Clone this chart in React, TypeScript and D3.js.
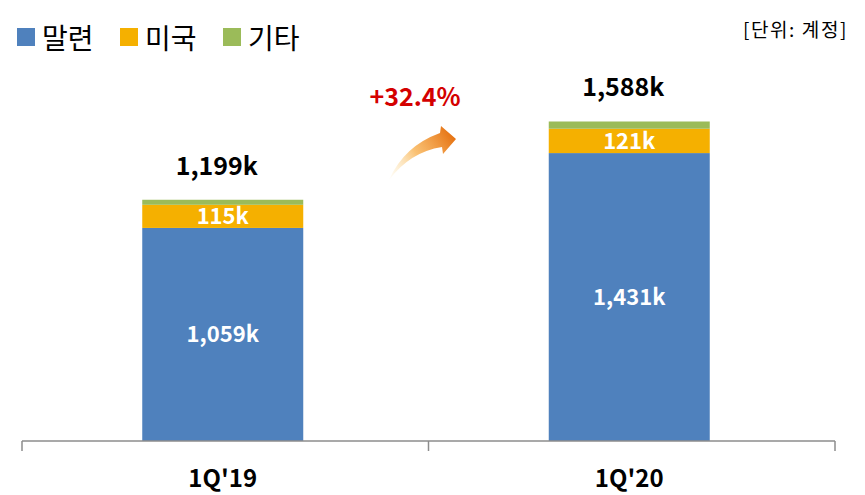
import React from 'react';
import * as d3 from 'd3';

const quarters = ["1Q'19", "1Q'20"];
const seriesNames = ['말련', '미국', '기타'];
const malaysia = [1059, 1431];
const usa = [115, 121];
const others = [25, 36];
const totals = ['1,199k', '1,588k'];
const growthLabel = '+32.4%';
const unitLabel = '[단위: 계정]';

const colors = ['#4F81BD', '#F5B000', '#9BBB59'];
const kr = '"Noto Sans CJK KR", "Malgun Gothic", sans-serif';

const W = 865;
const H = 495;

const fmt = (v: number) => d3.format(',')(v) + 'k';

const App: React.FC = () => {
  const x = d3.scaleBand<string>().domain(quarters).range([22, 835]);
  const barW = 161;
  const y = d3.scaleLinear().domain([0, 2000]).range([441, 38.6]);
  // bars sit a touch left of the band centre in the original
  const cx = (i: number) => (x(quarters[i]) as number) + x.bandwidth() / 2 - 2.5;

  const rows = quarters.map((q, i) => ({ q, m: malaysia[i], u: usa[i], o: others[i] }));
  const stack = d3.stack<any>().keys(['m', 'u', 'o'])(rows);

  return (
    <svg width={W} height={H} style={{ display: 'block', position: 'absolute', left: 0, top: 0, background: '#fff' }}>
      <defs>
        <linearGradient id="arrowGrad" gradientUnits="userSpaceOnUse" x1={390} y1={178} x2={456} y2={134}>
          <stop offset="0" stopColor="#FBE3A8" stopOpacity={0.1} />
          <stop offset="0.45" stopColor="#F9B65A" stopOpacity={0.85} />
          <stop offset="1" stopColor="#E46C0A" />
        </linearGradient>
      </defs>

      {/* legend */}
      {seriesNames.map((name, i) => {
        const lx = [17, 120, 223][i];
        return (
          <g key={name}>
            <rect x={lx} y={28} width={18} height={18} fill={colors[i]} />
            <text x={lx + 25} y={49} fontFamily={kr} fontSize={28} fill="#000">{name}</text>
          </g>
        );
      })}
      <text x={848} y={37} textAnchor="end" fontFamily={kr} fontSize={19} letterSpacing={1.6} fill="#000">{unitLabel}</text>

      {/* bars */}
      {stack.map((layer, si) =>
        layer.map((d, i) => (
          <rect key={si + '-' + i} x={cx(i) - barW / 2} y={y(d[1])} width={barW}
            height={y(d[0]) - y(d[1])} fill={colors[si]} />
        ))
      )}

      {/* segment labels */}
      {stack.slice(0, 2).map((layer, si) =>
        layer.map((d, i) => {
          const v = si === 0 ? malaysia[i] : usa[i];
          return (
            <text key={'l' + si + i} x={cx(i)} y={(y(d[0]) + y(d[1])) / 2} dy="0.36em" textAnchor="middle"
              fontFamily={kr} fontWeight="bold" fontSize={22} fill="#fff">{fmt(v)}</text>
          );
        })
      )}

      {/* totals */}
      {stack[2].map((d, i) => (
        <text key={'t' + i} x={cx(i) - 6} y={y(d[1]) - 34} dy="0.36em" textAnchor="middle"
          fontFamily={kr} fontWeight="bold" fontSize={25} fill="#000">{totals[i]}</text>
      ))}

      {/* axis */}
      <line x1={22} x2={835} y1={441} y2={441} stroke="#8C8C8C" strokeWidth={1.5} />
      {[...quarters.map(q => x(q) as number), 835].map((t, i) => (
        <line key={'tk' + i} x1={t} x2={t} y1={441} y2={451} stroke="#8C8C8C" strokeWidth={1.5} />
      ))}
      {quarters.map((q, i) => (
        <text key={q} x={cx(i)} y={478} dy="0.36em" textAnchor="middle"
          fontFamily={kr} fontWeight="bold" fontSize={24} fill="#000">{q}</text>
      ))}

      {/* growth annotation */}
      <text x={415} y={97} dy="0.36em" textAnchor="middle" fontFamily={kr} fontWeight="bold"
        fontSize={25} fill="#D40000">{growthLabel}</text>
      <path d="M 389 180 Q 404 146 440 133 L 441 126 L 456 139 L 443 154 L 442 147 Q 410 152 389 180 Z"
        fill="url(#arrowGrad)" />
    </svg>
  );
};

export default App;
